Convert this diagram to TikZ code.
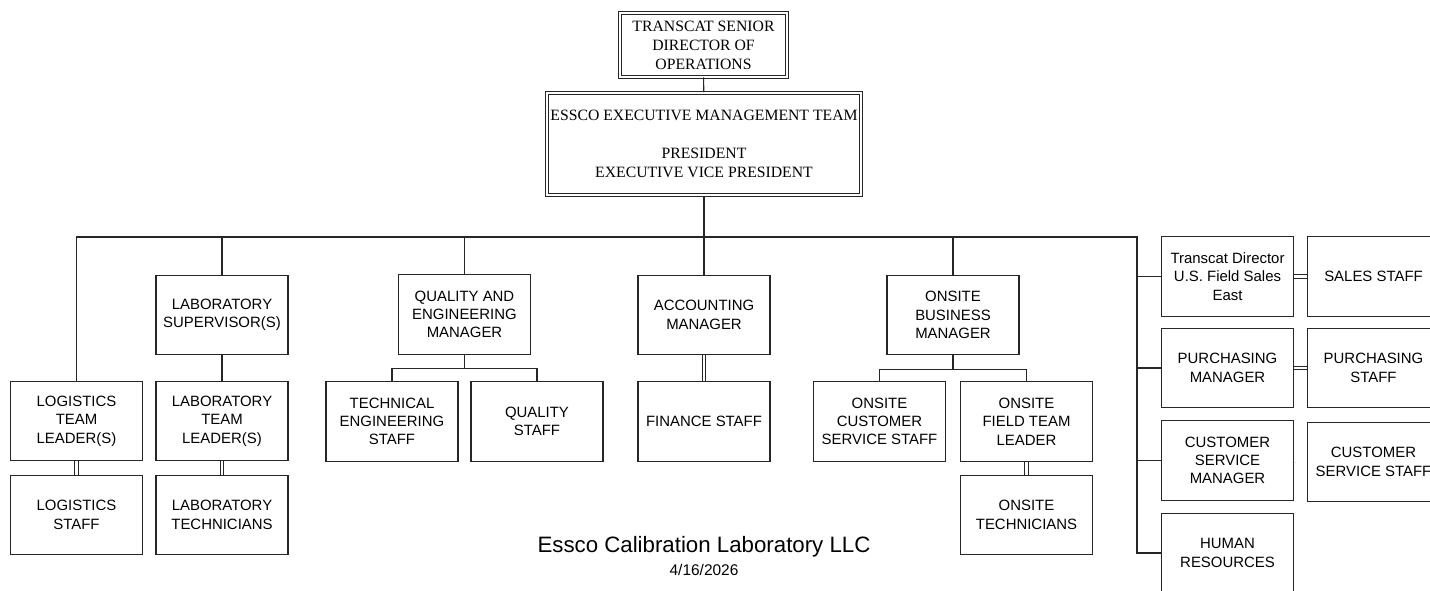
\documentclass[tikz,border=0pt]{standalone}
\usepackage{fontspec}
\setmainfont{Liberation Serif}
\setsansfont{Liberation Sans}
\begin{document}
\begin{tikzpicture}[x=0.75pt, y=-0.75pt,
  box/.style={draw=black!85, line width=0.8pt, minimum width=99pt, minimum height=59.5pt, inner sep=1pt, align=center, font=\sffamily\fontsize{11.2}{13.75}\selectfont},
  topbox/.style={draw=black!85, double, double distance=1.4pt, line width=0.7pt, inner sep=1pt, align=center, font=\fontsize{11.8}{14.2}\selectfont},
  link/.style={draw=black!85, line width=0.8pt},
  dbl/.style={draw=black!85, double, double distance=2pt, line width=0.7pt}]
\useasboundingbox (0,0) rectangle (1430,590);
\clip (0,0) rectangle (1430,590);
\node[topbox, minimum width=125pt, minimum height=48pt] (senior) at (703.5,45){TRANSCAT SENIOR\\DIRECTOR OF\\OPERATIONS};
\node[topbox, minimum width=236pt, minimum height=77pt] (exec) at (704,144){ESSCO EXECUTIVE MANAGEMENT TEAM\\[14.2pt]PRESIDENT\\EXECUTIVE VICE PRESIDENT};
\draw[link](senior) -- (exec);
\coordinate (busR) at (1137,237);
\node[box] (labsup) at (222,315){LABORATORY\\SUPERVISOR(S)};
\node[box] (qem) at (464.5,314.5){QUALITY AND\\ENGINEERING\\MANAGER};
\node[box] (acct) at (704,315){ACCOUNTING\\MANAGER};
\node[box] (obm) at (953,315){ONSITE\\BUSINESS\\MANAGER};
\node[box] (logtl) at (76.5,421){LOGISTICS\\TEAM\\LEADER(S)};
\node[box] (labtl) at (222,421){LABORATORY\\TEAM\\LEADER(S)};
\node[box] (tes) at (392,421.5){TECHNICAL\\ENGINEERING\\STAFF};
\node[box] (qs) at (537,421.5){QUALITY\\STAFF};
\node[box] (fin) at (704,421.5){FINANCE STAFF};
\node[box] (ocs) at (879.5,421.5){ONSITE\\CUSTOMER\\SERVICE STAFF};
\node[box] (oftl) at (1026.5,421.5){ONSITE\\FIELD TEAM\\LEADER};
\node[box] (logst) at (76.5,515){LOGISTICS\\STAFF};
\node[box] (labtech) at (222,515){LABORATORY\\TECHNICIANS};
\node[box] (otech) at (1026.5,515){ONSITE\\TECHNICIANS};
\node[box] (tdir) at (1227.5,276.5){Transcat Director\\U.S. Field Sales\\East};
\node[box] (sales) at (1373.5,276.5){SALES STAFF};
\node[box] (pmgr) at (1227.5,368){PURCHASING\\MANAGER};
\node[box] (pst) at (1373.5,368){PURCHASING\\STAFF};
\node[box] (csm) at (1227.5,460.5){CUSTOMER\\SERVICE\\MANAGER};
\node[box] (css) at (1373.5,462){CUSTOMER\\SERVICE STAFF};
\node[box] (hr) at (1227.5,553){HUMAN\\RESOURCES};
\node[font=\sffamily\fontsize{16.7}{20}\selectfont] (title) at (704,547){Essco Calibration Laboratory LLC};
\node[font=\sffamily\fontsize{11.6}{14}\selectfont] (date) at (704,570){4/16/2026};
\draw[link](logtl.north) |- (busR) |- (hr.west);
\draw[link](exec.south) -- (exec.south |- busR);
\draw[link](labsup.north) -- (labsup.north |- busR);
\draw[link](qem.north) -- (qem.north |- busR);
\draw[link](acct.north) -- (acct.north |- busR);
\draw[link](obm.north) -- (obm.north |- busR);
\draw[link](tdir.west) -- (tdir.west -| busR);
\draw[link](pmgr.west) -- (pmgr.west -| busR);
\draw[link](csm.west) -- (csm.west -| busR);
\draw[link](labsup) -- (labtl);
\draw[link](qem.south) -- ++(0,14) -| (tes.north);
\draw[link](qem.south) -- ++(0,14) -| (qs.north);
\draw[link](obm.south) -- ++(0,14) -| (ocs.north);
\draw[link](obm.south) -- ++(0,14) -| (oftl.north);
\draw[dbl](logtl) -- (logst);
\draw[dbl](labtl) -- (labtech);
\draw[dbl](acct) -- (fin);
\draw[dbl](oftl) -- (otech);
\draw[dbl](tdir) -- (sales);
\draw[dbl](pmgr) -- (pst);
\draw[dbl](csm) -- (css.west -| csm.east);
\end{tikzpicture}
\end{document}
